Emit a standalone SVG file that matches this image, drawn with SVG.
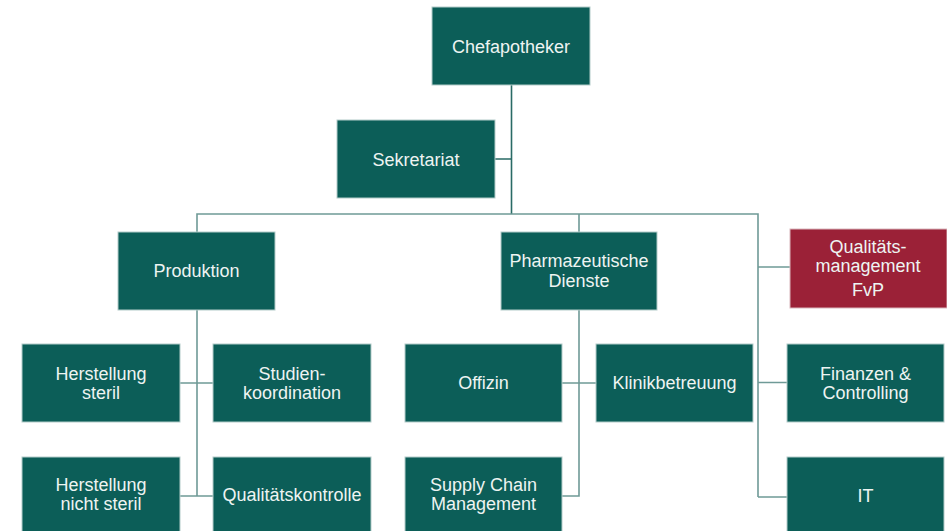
<svg xmlns="http://www.w3.org/2000/svg" width="947" height="531" viewBox="0 0 947 531">
<style>
.box{fill:#0c5e58;stroke:#b3ccc9;stroke-width:1}
.red{fill:#9b2137;stroke:#d9b7bd;stroke-width:1}
.t{font-family:"Liberation Sans",Arial,sans-serif;font-size:18px;fill:#eef4f2;text-anchor:middle}
.c{fill:none;stroke:#6f9a97;stroke-width:1.6}
.cd{fill:none;stroke:#2a6b66;stroke-width:1.6}
</style>
<rect width="947" height="531" fill="#ffffff"/>
<g id="connectors">
<path class="cd" d="M511.5 85 V214 M495 159 H511.5"/>
<path class="c" d="M197 232 V214 H758 V497 M579 214 V232"/>
<path class="c" d="M758 267 H790 M758 382.5 H787 M758 497 H787"/>
<path class="c" d="M197 310 V496 M180 383 H213 M180 496 H213"/>
<path class="c" d="M579 310 V496 H562 M562 383 H596"/>
</g>
<g id="chef"><rect class="box" x="432" y="7" width="158" height="78"/><text class="t" x="511" y="52.5">Chefapotheker</text></g>
<g id="sekretariat"><rect class="box" x="337" y="120" width="158" height="78"/><text class="t" x="416" y="165.5">Sekretariat</text></g>
<g id="produktion"><rect class="box" x="118" y="232" width="157" height="78"/><text class="t" x="196.5" y="276.5">Produktion</text></g>
<g id="pharm"><rect class="box" x="501" y="232" width="156" height="78"/><text class="t" x="579" y="266.5">Pharmazeutische</text><text class="t" x="579" y="286.5">Dienste</text></g>
<g id="qm"><rect class="red" x="790" y="229" width="157" height="79"/><text class="t" x="868" y="253">Qualitäts-</text><text class="t" x="868" y="272">management</text><text class="t" x="868" y="295.5">FvP</text></g>
<g id="hs"><rect class="box" x="22" y="344" width="158" height="78"/><text class="t" x="101" y="379.5">Herstellung</text><text class="t" x="101" y="399">steril</text></g>
<g id="sk"><rect class="box" x="213" y="344" width="158" height="78"/><text class="t" x="292" y="379.5">Studien-</text><text class="t" x="292" y="399">koordination</text></g>
<g id="hns"><rect class="box" x="22" y="457" width="158" height="78"/><text class="t" x="101" y="491">Herstellung</text><text class="t" x="101" y="510">nicht steril</text></g>
<g id="qk"><rect class="box" x="213" y="457" width="158" height="78"/><text class="t" x="292" y="500.5">Qualitätskontrolle</text></g>
<g id="offizin"><rect class="box" x="405" y="344" width="157" height="78"/><text class="t" x="483.5" y="388.5">Offizin</text></g>
<g id="klinik"><rect class="box" x="596" y="344" width="157" height="78"/><text class="t" x="674.5" y="388.5">Klinikbetreuung</text></g>
<g id="scm"><rect class="box" x="405" y="457" width="157" height="78"/><text class="t" x="483.5" y="490.5">Supply Chain</text><text class="t" x="483.5" y="509.5">Management</text></g>
<g id="fin"><rect class="box" x="787" y="344" width="157" height="78"/><text class="t" x="865.5" y="379.5">Finanzen &amp;</text><text class="t" x="865.5" y="399">Controlling</text></g>
<g id="it"><rect class="box" x="787" y="457" width="157" height="78"/><text class="t" x="865.5" y="501.5">IT</text></g>
</svg>
